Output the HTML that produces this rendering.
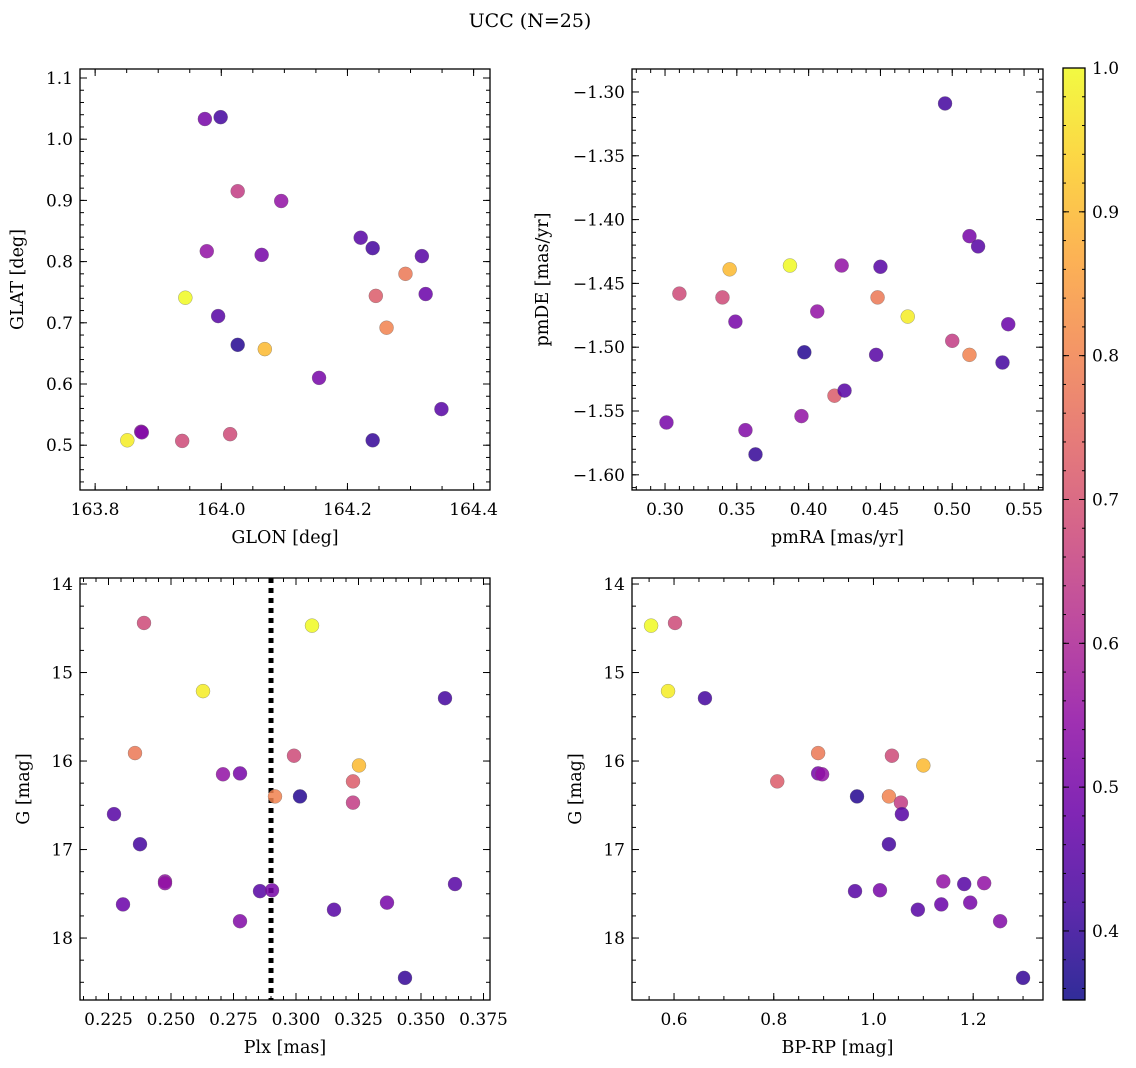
<!DOCTYPE html>
<html><head><meta charset="utf-8">
<style>
body{margin:0;background:#fff;}
svg{display:block;font-family:"DejaVu Serif","Liberation Serif",serif;}
</style></head>
<body>
<svg id="chart" width="1136" height="1068" viewBox="0 0 1136 1068" xmlns="http://www.w3.org/2000/svg">
<defs>
<linearGradient id="cbgrad" x1="0" y1="1" x2="0" y2="0"></linearGradient>
</defs>
<text x="530" y="27" font-size="19" text-anchor="middle">UCC (N=25)</text>
</svg>
<script>
const prob = [1.0,0.68,0.98,0.42,0.72,0.78,0.5,0.55,0.38,0.68,0.8,0.9,0.65,0.45,0.42,0.45,0.5,0.45,0.55,0.48,0.45,0.55,0.5,0.52,0.4];
const plx  = [0.3064,0.2392,0.2628,0.3596,0.3228,0.2356,0.2776,0.2708,0.3016,0.2992,0.2916,0.3252,0.3228,0.2272,0.2376,0.2856,0.2904,0.3152,0.2476,0.2308,0.3636,0.2476,0.3364,0.2776,0.3436];
const gmag = [14.47,14.44,15.21,15.29,16.23,15.91,16.14,16.15,16.40,15.94,16.40,16.05,16.47,16.60,16.94,17.47,17.46,17.68,17.36,17.62,17.39,17.38,17.60,17.81,18.45];
const bprp = [0.554,0.602,0.588,0.662,0.807,0.889,0.889,0.897,0.967,1.037,1.031,1.100,1.055,1.057,1.031,0.963,1.013,1.089,1.140,1.136,1.182,1.222,1.194,1.254,1.300];
const glon = [163.943,163.938,163.851,163.999,164.245,164.292,163.974,164.095,164.026,164.014,164.262,164.069,164.026,164.221,164.240,163.995,164.064,164.318,163.873,164.324,164.349,163.977,164.155,163.874,164.240];
const glat = [0.741,0.507,0.508,1.036,0.744,0.780,1.033,0.899,0.664,0.518,0.692,0.657,0.915,0.839,0.822,0.711,0.811,0.809,0.522,0.747,0.559,0.817,0.610,0.521,0.508];
const pmra = [0.387,0.310,0.469,0.495,0.418,0.448,0.512,0.423,0.397,0.340,0.512,0.345,0.500,0.518,0.535,0.450,0.349,0.425,0.406,0.539,0.447,0.395,0.301,0.356,0.363];
const pmde = [-1.436,-1.458,-1.476,-1.309,-1.538,-1.461,-1.413,-1.436,-1.504,-1.461,-1.506,-1.439,-1.495,-1.421,-1.512,-1.437,-1.480,-1.534,-1.472,-1.482,-1.506,-1.554,-1.559,-1.565,-1.584];
const plxLine = [0.290];
const tlXTicks = [163.8,164.0,164.2,164.4];
const tlYTicks = [0.5,0.6,0.7,0.8,0.9,1.0,1.1];
const trXTicks = [0.30,0.35,0.40,0.45,0.50,0.55];
const trYTicks = [-1.30,-1.35,-1.40,-1.45,-1.50,-1.55,-1.60];
const blXTicks = [0.225,0.250,0.275,0.300,0.325,0.350,0.375];
const gTicks = [14,15,16,17,18];
const brXTicks = [0.6,0.8,1.0,1.2];
const cbTicks = [0.4,0.5,0.6,0.7,0.8,0.9,1.0];
const cbRange = [0.352,1.0];

const NS="http://www.w3.org/2000/svg";
const svg=document.getElementById('chart');
function mk(tag,attrs,parent){const e=document.createElementNS(NS,tag);for(const k in attrs)e.setAttribute(k,attrs[k]);(parent||svg).appendChild(e);return e;}
const stops=[[0,[13,8,135]],[0.1,[65,4,157]],[0.2,[106,0,168]],[0.3,[143,13,164]],[0.4,[177,42,144]],[0.5,[204,71,120]],[0.6,[225,100,98]],[0.7,[242,132,75]],[0.8,[252,166,54]],[0.9,[252,206,37]],[1,[240,249,33]]];
function plasma(t){t=Math.max(0,Math.min(1,t));for(let i=1;i<stops.length;i++){if(t<=stops[i][0]){const a=stops[i-1],b=stops[i];const f=(t-a[0])/(b[0]-a[0]);const c=a[1].map((v,j)=>Math.round(v+(b[1][j]-v)*f));return `rgb(${c[0]},${c[1]},${c[2]})`;}}return 'rgb(240,249,33)';}
function cnorm(v){return (v-cbRange[0])/(cbRange[1]-cbRange[0]);}
function fmt(v,d){let s=v.toFixed(d);return s.replace('-','\u2212');}

function panel(cfg){
  const g=mk('g',{});
  
  
  const {x0,x1,y0,y1,xmin,xmax,ymin,ymax}=cfg;
  const X=v=>x0+(v-xmin)/(xmax-xmin)*(x1-x0);
  const Y=cfg.invert?(v=>y0+(v-ymax)/(ymin-ymax)*(y1-y0)):(v=>y1-(v-ymin)/(ymax-ymin)*(y1-y0));
  if(cfg.vline){cfg.vline.forEach(v=>{const l=mk('line',{x1:X(v),x2:X(v),y1:y0,y2:y1,stroke:'#000','stroke-width':5,'stroke-dasharray':'5,5'},g);});}
  for(let i=0;i<cfg.xs.length;i++){
    const c=mk('circle',{cx:X(cfg.xs[i]),cy:Y(cfg.ys[i]),r:7,fill:plasma(cnorm(prob[i])),'fill-opacity':0.85,stroke:'#666','stroke-width':0.5,'stroke-opacity':0.6},g);
    
    
  }
  mk('rect',{x:x0,y:y0,width:x1-x0,height:y1-y0,fill:'none',stroke:'#000','stroke-width':1.3},g);
  const xstep=cfg.xt[1]-cfg.xt[0];
  cfg.xt.forEach(v=>{const x=X(v);mk('line',{x1:x,x2:x,y1:y1,y2:y1-7,stroke:'#000'},g);mk('line',{x1:x,x2:x,y1:y0,y2:y0+7,stroke:'#000'},g);
    const t=mk('text',{x:x,y:y1+25,'font-size':17,'text-anchor':'middle'},g);t.textContent=fmt(v,cfg.xd);});
  const xm=xstep/cfg.xmn;
  for(let v=cfg.xt[0]-xstep;v<=xmax+1e-9;v+=xm){if(v<xmin)continue;const x=X(v);mk('line',{x1:x,x2:x,y1:y1,y2:y1-4,stroke:'#000'},g);mk('line',{x1:x,x2:x,y1:y0,y2:y0+4,stroke:'#000'},g);}
  const ystep=Math.abs(cfg.yt[1]-cfg.yt[0]);
  cfg.yt.forEach(v=>{const y=Y(v);mk('line',{x1:x0,x2:x0+7,y1:y,y2:y,stroke:'#000'},g);mk('line',{x1:x1,x2:x1-7,y1:y,y2:y,stroke:'#000'},g);
    const t=mk('text',{x:x0-7,y:y+6,'font-size':17,'text-anchor':'end'},g);t.textContent=fmt(v,cfg.yd);});
  const ym=ystep/cfg.ymn;const ylo=Math.min(ymin,ymax),yhi=Math.max(ymin,ymax);
  for(let v=Math.min(...cfg.yt)-ystep;v<=yhi+1e-9;v+=ym){if(v<ylo)continue;const y=Y(v);mk('line',{x1:x0,x2:x0+4,y1:y,y2:y,stroke:'#000'},g);mk('line',{x1:x1,x2:x1-4,y1:y,y2:y,stroke:'#000'},g);}
  const xl=mk('text',{x:(x0+x1)/2,y:y1+53,'font-size':17.5,'text-anchor':'middle'},g);xl.textContent=cfg.xlabel;
  const yx=cfg.ylx, yy=(y0+y1)/2;
  const yl=mk('text',{x:yx,y:yy,'font-size':17.5,'text-anchor':'middle',transform:`rotate(-90 ${yx} ${yy})`},g);yl.textContent=cfg.ylabel;
}

panel({name:'glon-glat-panel',x0:80,x1:490,y0:69,y1:490,xmin:163.776,xmax:164.426,ymin:0.4268,ymax:1.1147,xs:glon,ys:glat,xt:tlXTicks,yt:tlYTicks,xd:1,yd:1,xmn:4,ymn:5,xlabel:'GLON [deg]',ylabel:'GLAT [deg]',ylx:23});
panel({name:'pm-panel',x0:632,x1:1043,y0:69,y1:490,xmin:0.277,xmax:0.5632,ymin:-1.6119,ymax:-1.282,xs:pmra,ys:pmde,xt:trXTicks,yt:trYTicks,xd:2,yd:2,xmn:5,ymn:5,xlabel:'pmRA [mas/yr]',ylabel:'pmDE [mas/yr]',ylx:548});
panel({name:'plx-g-panel',x0:80,x1:490,y0:578,y1:1000,xmin:0.2136,xmax:0.3776,ymin:18.70,ymax:13.932,invert:true,xs:plx,ys:gmag,xt:blXTicks,yt:gTicks,xd:3,yd:0,xmn:5,ymn:4,xlabel:'Plx [mas]',ylabel:'G [mag]',ylx:29,vline:plxLine});
panel({name:'cmd-panel',x0:632,x1:1043,y0:578,y1:1000,xmin:0.5157,xmax:1.340,ymin:18.70,ymax:13.932,invert:true,xs:bprp,ys:gmag,xt:brXTicks,yt:gTicks,xd:1,yd:0,xmn:4,ymn:4,xlabel:'BP-RP [mag]',ylabel:'G [mag]',ylx:581});

const grad=document.getElementById('cbgrad');
for(let i=0;i<=10;i++){mk('stop',{offset:i/10,'stop-color':plasma(i/10)},grad);}
const cb=mk('g',{});


const cx0=1063,cx1=1085,cy0=68,cy1=1000;
mk('rect',{x:cx0,y:cy0,width:cx1-cx0,height:cy1-cy0,fill:'url(#cbgrad)','fill-opacity':0.85},cb);
mk('rect',{x:cx0,y:cy0,width:cx1-cx0,height:cy1-cy0,fill:'none',stroke:'#000','stroke-width':1.3},cb);
const CY=v=>cy1-(v-cbRange[0])/(cbRange[1]-cbRange[0])*(cy1-cy0);
cbTicks.forEach(v=>{const y=CY(v);mk('line',{x1:cx1,x2:cx1-6,y1:y,y2:y,stroke:'#000'},cb);mk('line',{x1:cx0,x2:cx0+6,y1:y,y2:y,stroke:'#000'},cb);
  const t=mk('text',{x:cx1+7,y:y+6,'font-size':17},cb);t.textContent=v.toFixed(1);});
for(let v=0.36;v<=1.0001;v+=0.02){const y=CY(v);mk('line',{x1:cx1,x2:cx1-3,y1:y,y2:y,stroke:'#000'},cb);mk('line',{x1:cx0,x2:cx0+3,y1:y,y2:y,stroke:'#000'},cb);}
</script>
</body></html>
